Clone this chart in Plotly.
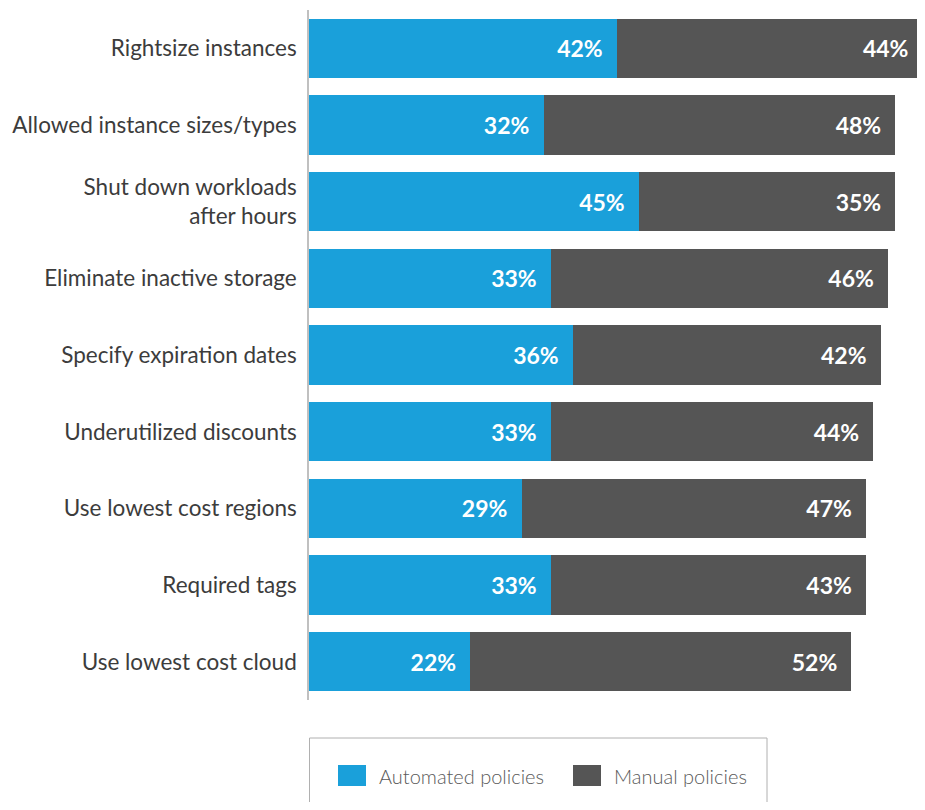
import plotly.graph_objects as go

categories = [
    "Rightsize instances",
    "Allowed instance sizes/types",
    "Shut down workloads<br>after hours",
    "Eliminate inactive storage",
    "Specify expiration dates",
    "Underutilized discounts",
    "Use lowest cost regions",
    "Required tags",
    "Use lowest cost cloud",
]
automated = [42, 32, 45, 33, 36, 33, 29, 33, 22]
manual = [44, 48, 35, 46, 42, 44, 47, 43, 52]
series_names = ["Automated policies", "Manual policies"]
colors = ["#1aa0da", "#555555"]

# page has an 8px body margin on every side; the figure must fit in the body box
OFF = 8
W, H = 925 - 2 * OFF, 810 - 2 * OFF
L, R, T, B = 301, 0, 2, 102
PW, PH = W - L - R, H - T - B
px_per_pct = 7.33
x_max = PW / px_per_pct

FONT = "Lato"


def label(v, end):
    # bars that run past the visible right edge get their label pulled back inside
    pad = 5 if end > x_max else 2
    return f"{v}%" + "\u00a0" * pad


fig = go.Figure()
base = [0] * len(categories)
for name, vals, col in zip(series_names, [automated, manual], colors):
    ends = [b + v for b, v in zip(base, vals)]
    fig.add_trace(go.Bar(
        y=categories, x=vals, name=name, orientation="h",
        marker=dict(color=col, line=dict(width=0)),
        text=[label(v, e) for v, e in zip(vals, ends)],
        textposition="inside", insidetextanchor="end",
        textfont=dict(family=FONT, size=23, color="white", weight="bold"),
        showlegend=False,
    ))
    base = ends


def px2x(px):
    return (px - OFF - L) / PW


def py2y(py):
    return (H - B - (py - OFF)) / PH


shapes = [
    dict(type="rect", xref="paper", yref="paper",
         x0=px2x(309.5), x1=px2x(767), y0=py2y(738), y1=py2y(840),
         line=dict(color="#b0b0b0", width=1), fillcolor="rgba(0,0,0,0)"),
]
annotations = []
legend_items = [(338, 377), (573, 612)]
for (sx, tx), name, col in zip(legend_items, series_names, colors):
    shapes.append(dict(type="rect", xref="paper", yref="paper",
                       x0=px2x(sx), x1=px2x(sx + 28), y0=py2y(765), y1=py2y(786),
                       line=dict(width=0), fillcolor=col))
    annotations.append(dict(xref="paper", yref="paper", x=px2x(tx), y=py2y(775.5),
                            text=name, showarrow=False, xanchor="left", yanchor="middle",
                            font=dict(family=FONT, size=20, color="#5a5a5a", weight=300)))

fig.update_layout(
    width=W, height=H,
    margin=dict(l=L, r=R, t=T, b=B),
    barmode="stack", bargap=0.23,
    plot_bgcolor="white", paper_bgcolor="white",
    font=dict(family=FONT, size=22, color="#3c3c3c"),
    xaxis=dict(range=[0, x_max], showticklabels=False, showgrid=False,
               zeroline=False, showline=False, fixedrange=True),
    yaxis=dict(autorange="reversed", showline=True, linecolor="#c0c0c0", linewidth=1.5,
               showgrid=False, zeroline=False, ticks="", ticklabelstandoff=6,
               tickfont=dict(family=FONT, size=22.5, color="#3c3c3c")),
    shapes=shapes, annotations=annotations,
    showlegend=False,
)

fig.write_html("out.html")
